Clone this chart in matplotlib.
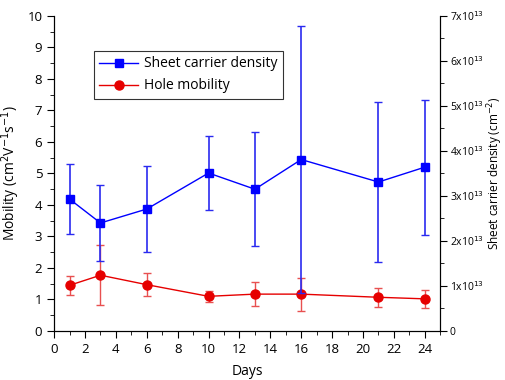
import matplotlib
matplotlib.use("Agg")
import matplotlib.pyplot as plt
from matplotlib.lines import Line2D
from matplotlib.ticker import MultipleLocator, FuncFormatter

plt.rcParams["font.family"] = ["Open Sans", "DejaVu Sans"]

days = [1, 3, 6, 10, 13, 16, 21, 24]

# hole mobility (cm^2 V^-1 s^-1)
mobility = [1.45, 1.77, 1.47, 1.10, 1.17, 1.17, 1.07, 1.02]
mobility_err = [0.31, 0.95, 0.36, 0.17, 0.37, 0.52, 0.30, 0.28]

# sheet carrier density (units of 1e13 cm^-2)
density = [2.93, 2.40, 2.71, 3.51, 3.15, 3.81, 3.31, 3.64]
density_err = [0.78, 0.84, 0.95, 0.83, 1.27, 2.97, 1.77, 1.50]

fig = plt.figure(figsize=(5.06, 3.80), dpi=100)
ax = fig.add_axes([0.107, 0.129, 0.763, 0.829])
ax2 = ax.twinx()

red = "#e60000"
blue = "#0000ff"

ax.errorbar(days, mobility, yerr=mobility_err, color=red, ecolor="#e85050",
            marker="o", markersize=6.5, lw=1, elinewidth=1, capsize=3,
            capthick=1)
ax2.errorbar(days, [v * 1e13 for v in density],
             yerr=[e * 1e13 for e in density_err], color=blue,
             ecolor="#2a2af0", marker="s", markersize=5.5, lw=1,
             elinewidth=1.2, capsize=3, capthick=1)

ax.set_xlim(0, 25)
ax.set_ylim(0, 10)
ax2.set_ylim(0, 7e13)

ax.xaxis.set_major_locator(MultipleLocator(2))
ax.xaxis.set_minor_locator(MultipleLocator(1))
ax.yaxis.set_major_locator(MultipleLocator(1))
ax.yaxis.set_minor_locator(MultipleLocator(0.5))
ax2.yaxis.set_major_locator(MultipleLocator(1e13))
ax2.yaxis.set_minor_locator(MultipleLocator(0.5e13))


def sci(v, pos):
    n = int(round(v / 1e13))
    if n == 0:
        return "0"
    return r"%dx10$^{13}$" % n


ax2.yaxis.set_major_formatter(FuncFormatter(sci))

for a in (ax, ax2):
    a.spines["top"].set_visible(False)
    a.tick_params(which="both", direction="out", labelsize=9.5)
    a.tick_params(which="major", length=5)
    a.tick_params(which="minor", length=3)
ax2.tick_params(axis="y", labelsize=7.5, pad=2)

ax.set_xlabel("Days", fontsize=10, labelpad=6)
ax.set_ylabel(r"Mobility (cm$^2$V$^{-1}$s$^{-1}$)", fontsize=10, labelpad=4)
ax2.set_ylabel(r"Sheet carrier density (cm$^{-2}$)", fontsize=8.5)
ax2.yaxis.set_label_coords(1.118, 0.5)

handles = [
    Line2D([], [], color=blue, marker="s", markersize=5.5, lw=1),
    Line2D([], [], color=red, marker="o", markersize=6.5, lw=1),
]
leg = ax2.legend(handles, ["Sheet carrier density", "Hole mobility"],
                 loc="upper left", bbox_to_anchor=(0.103, 0.889),
                 borderaxespad=0, fontsize=10,
                 frameon=True, fancybox=False, edgecolor="black",
                 handlelength=2.8, borderpad=0.4, labelspacing=0.5,
                 handletextpad=0.4)
leg.get_frame().set_linewidth(0.8)

fig.savefig("out.png", dpi=100)
